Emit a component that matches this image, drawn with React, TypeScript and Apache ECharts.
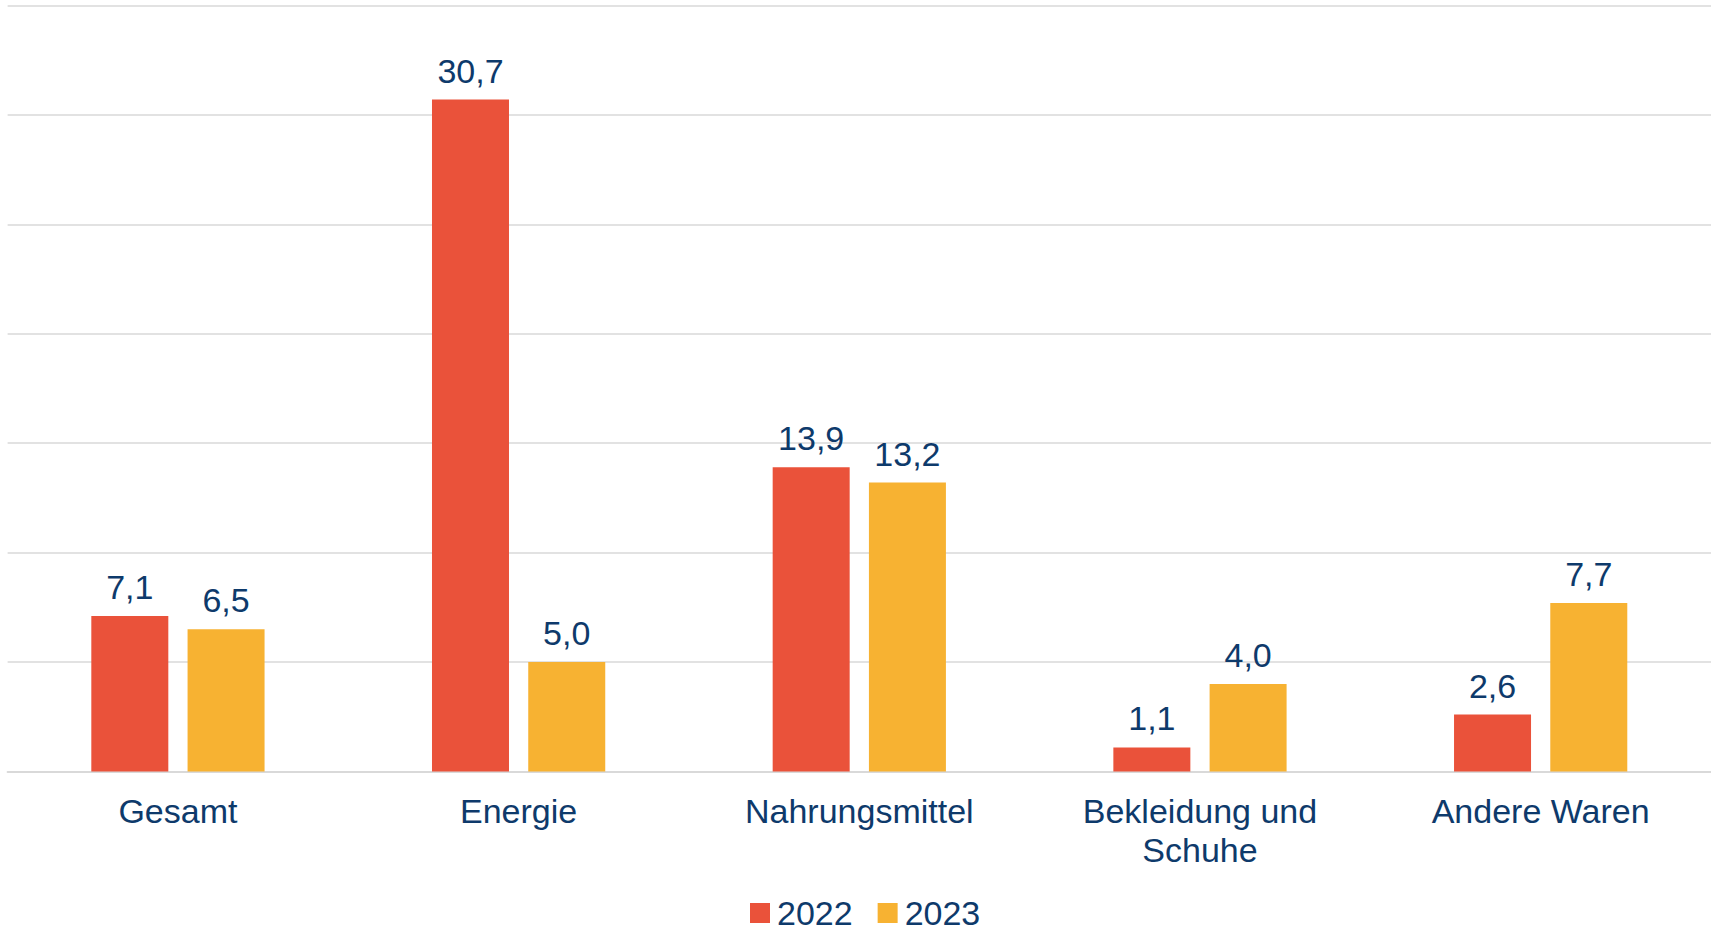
import React, { useEffect, useRef } from "react";
import * as echarts from "echarts";

const categories = ["Gesamt", "Energie", "Nahrungsmittel", "Bekleidung und\nSchuhe", "Andere Waren"];
const series2022 = [7.1, 30.7, 13.9, 1.1, 2.6];
const series2023 = [6.5, 5.0, 13.2, 4.0, 7.7];
const seriesNames = ["2022", "2023"];

const TEXT = "#0E3A6B";
const FONT = "'Liberation Sans', Arial, sans-serif";

export default function App() {
  const ref = useRef<HTMLDivElement>(null);
  useEffect(() => {
    if (!ref.current) return;
    const chart = echarts.init(ref.current, undefined, { renderer: "svg" });
    const fmt = (p: any) => Number(p.value).toFixed(1).replace(".", ",");
    const label = {
      show: true,
      position: "top",
      distance: 12,
      color: TEXT,
      fontSize: 34,
      fontFamily: FONT,
      formatter: fmt,
    };
    chart.setOption({
      animation: false,
      textStyle: { fontFamily: FONT },
      grid: { left: 7.6, right: 0, top: 5.5, bottom: 162.5, containLabel: false },
      legend: {
        data: seriesNames,
        left: 750,
        top: 896,
        padding: 0,
        itemWidth: 20,
        itemHeight: 20,
        itemGap: 25,
        icon: "rect",
        textStyle: { color: TEXT, fontSize: 34, fontFamily: FONT, padding: [0, 0, 0, 2] },
      },
      xAxis: {
        type: "category",
        data: categories,
        axisLine: { show: true, lineStyle: { color: "#d9d9d9", width: 2 } },
        axisTick: { show: false },
        axisLabel: { color: TEXT, fontSize: 34, fontFamily: FONT, margin: 20, lineHeight: 39 },
      },
      yAxis: {
        type: "value",
        min: 0,
        max: 35,
        interval: 5,
        axisLabel: { show: false },
        axisLine: { show: false },
        axisTick: { show: false },
        splitLine: { lineStyle: { color: "#d9d9d9", width: 1.5 } },
      },
      series: [
        {
          name: seriesNames[0],
          type: "bar",
          data: series2022,
          barWidth: 77,
          barGap: "25%",
          itemStyle: { color: "#EA523A" },
          label,
        },
        {
          name: seriesNames[1],
          type: "bar",
          data: series2023,
          barWidth: 77,
          barGap: "25%",
          itemStyle: { color: "#F7B232" },
          label,
        },
      ],
    });
    return () => chart.dispose();
  }, []);
  return (
    <div
      ref={ref}
      style={{ position: "fixed", left: 0, top: 0, width: 1711, height: 934, background: "#fff" }}
    />
  );
}
